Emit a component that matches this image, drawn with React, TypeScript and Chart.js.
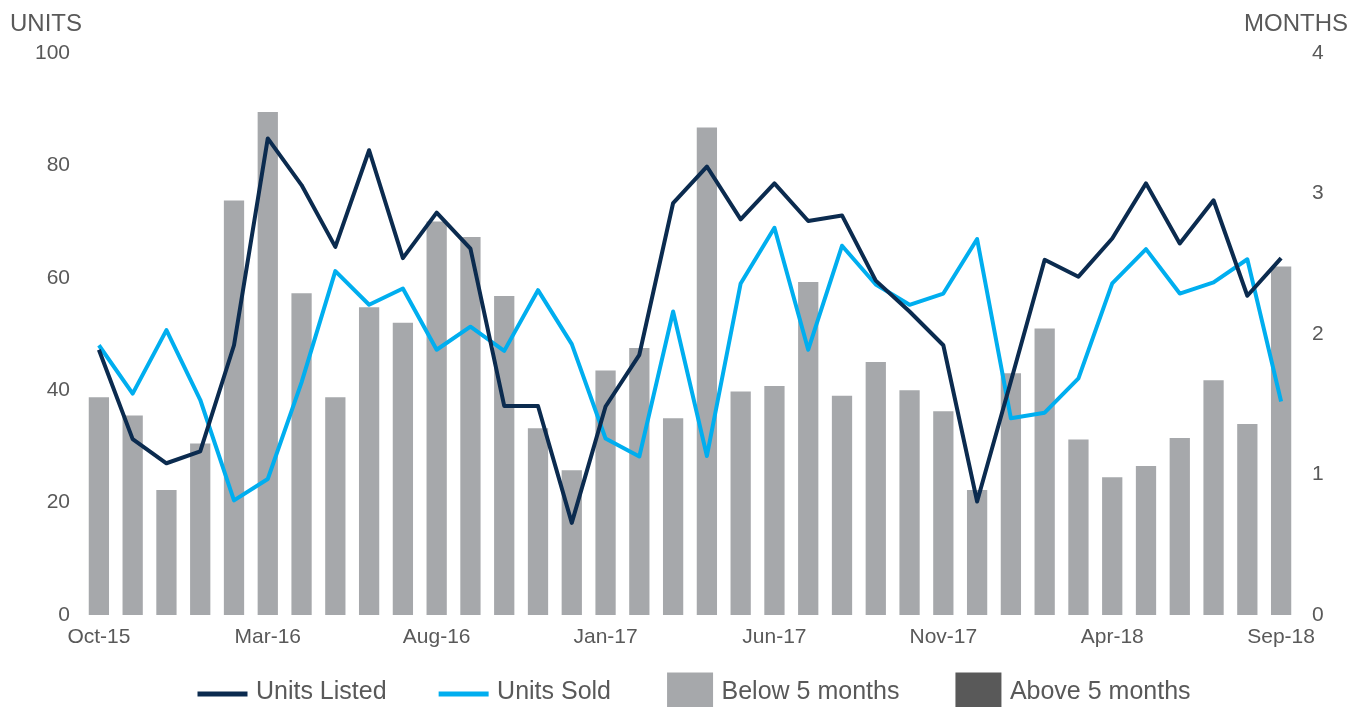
import React, { useEffect, useRef } from 'react';
import { Chart, registerables } from 'chart.js';

Chart.register(...registerables);

// ---------- data ----------
const categories = [
  'Oct-15', 'Nov-15', 'Dec-15', 'Jan-16', 'Feb-16', 'Mar-16', 'Apr-16', 'May-16', 'Jun-16',
  'Jul-16', 'Aug-16', 'Sep-16', 'Oct-16', 'Nov-16', 'Dec-16', 'Jan-17', 'Feb-17', 'Mar-17',
  'Apr-17', 'May-17', 'Jun-17', 'Jul-17', 'Aug-17', 'Sep-17', 'Oct-17', 'Nov-17', 'Dec-17',
  'Jan-18', 'Feb-18', 'Mar-18', 'Apr-18', 'May-18', 'Jun-18', 'Jul-18', 'Aug-18', 'Sep-18',
];

const unitsListed = [
  47.2, 31.3, 27.0, 29.1, 48.0, 84.8, 76.5, 65.5, 82.7,
  63.5, 71.6, 65.2, 37.2, 37.2, 16.4, 37.1, 46.3, 73.3,
  79.8, 70.4, 76.8, 70.1, 71.1, 59.5, 54.0, 48.0, 20.2,
  41.6, 63.2, 60.2, 67.0, 76.8, 66.1, 73.8, 56.8, 63.5,
];

const unitsSold = [
  48.0, 39.4, 50.7, 38.3, 20.4, 24.2, 41.4, 61.2, 55.2,
  58.1, 47.2, 51.3, 47.0, 57.8, 48.2, 31.4, 28.2, 54.0,
  28.3, 59.0, 68.9, 47.2, 65.7, 58.8, 55.2, 57.2, 66.9,
  35.0, 36.0, 42.1, 59.0, 65.1, 57.2, 59.2, 63.3, 38.0,
];

const monthsBelow5 = [
  1.55, 1.42, 0.89, 1.22, 2.95, 3.58, 2.29, 1.55, 2.19,
  2.08, 2.80, 2.69, 2.27, 1.33, 1.03, 1.74, 1.90, 1.40,
  3.47, 1.59, 1.63, 2.37, 1.56, 1.80, 1.60, 1.45, 0.89,
  1.72, 2.04, 1.25, 0.98, 1.06, 1.26, 1.67, 1.36, 2.48,
];

const monthsAbove5: (number | null)[] = [
  null, null, null, null, null, null, null, null, null,
  null, null, null, null, null, null, null, null, null,
  null, null, null, null, null, null, null, null, null,
  null, null, null, null, null, null, null, null, null,
];

const seriesNames = ['Units Listed', 'Units Sold', 'Below 5 months', 'Above 5 months'];
const leftAxisTitle = 'UNITS';
const rightAxisTitle = 'MONTHS';
const unitsRange = { min: 0, max: 100, step: 20 };
const monthsRange = { min: 0, max: 4, step: 1 };
const xLabelEvery = 5;

// ---------- styles ----------
const FONT = "'Liberation Sans', Arial, Helvetica, sans-serif";
const TEXT = '#595959';
const NAVY = '#0B2B4F';
const CYAN = '#00AEEF';
const BAR_GREY = '#A6A8AB';
const BAR_DARK = '#595959';

function makeSwatch(kind: 'line' | 'box', color: string): HTMLCanvasElement {
  const c = document.createElement('canvas');
  c.width = 100;
  c.height = 48;
  const ctx = c.getContext('2d')!;
  ctx.fillStyle = color;
  if (kind === 'line') ctx.fillRect(48, 23, 50, 5);
  else ctx.fillRect(52, 4, 46, 44);
  return c;
}

const axisTitlesPlugin = {
  id: 'axisTitles',
  afterDraw(chart: any) {
    const ctx = chart.ctx as CanvasRenderingContext2D;
    ctx.save();
    ctx.fillStyle = TEXT;
    ctx.font = `24px ${FONT}`;
    ctx.textBaseline = 'alphabetic';
    ctx.textAlign = 'left';
    ctx.fillText(leftAxisTitle, 10, 31);
    ctx.textAlign = 'right';
    ctx.fillText(rightAxisTitle, chart.width - 16, 31);
    ctx.restore();
  },
};

export default function App() {
  const canvasRef = useRef<HTMLCanvasElement | null>(null);

  useEffect(() => {
    const canvas = canvasRef.current;
    if (!canvas) return;

    const swatches = [
      makeSwatch('line', NAVY),
      makeSwatch('line', CYAN),
      makeSwatch('box', BAR_GREY),
      makeSwatch('box', BAR_DARK),
    ];

    const chart = new Chart(canvas, {
      type: 'bar',
      data: {
        labels: categories,
        datasets: [
          {
            type: 'line',
            label: seriesNames[0],
            data: unitsListed,
            yAxisID: 'y',
            borderColor: NAVY,
            backgroundColor: NAVY,
            borderWidth: 4,
            pointRadius: 0,
            tension: 0,
            borderJoinStyle: 'round',
            fill: false,
          } as any,
          {
            type: 'line',
            label: seriesNames[1],
            data: unitsSold,
            yAxisID: 'y',
            borderColor: CYAN,
            backgroundColor: CYAN,
            borderWidth: 4,
            pointRadius: 0,
            tension: 0,
            borderJoinStyle: 'round',
            fill: false,
          } as any,
          {
            type: 'bar',
            label: seriesNames[2],
            data: monthsBelow5,
            yAxisID: 'y1',
            backgroundColor: BAR_GREY,
            stack: 'months',
            categoryPercentage: 1,
            barPercentage: 0.6,
          } as any,
          {
            type: 'bar',
            label: seriesNames[3],
            data: monthsAbove5,
            yAxisID: 'y1',
            backgroundColor: BAR_DARK,
            stack: 'months',
            categoryPercentage: 1,
            barPercentage: 0.6,
          } as any,
        ],
      },
      options: {
        responsive: false,
        animation: false,
        devicePixelRatio: 1,
        events: [],
        layout: { padding: { top: 53, left: 0, right: 18, bottom: 0 } },
        plugins: {
          tooltip: { enabled: false },
          legend: {
            display: true,
            position: 'bottom',
            maxHeight: 37,
            labels: {
              usePointStyle: true,
              pointStyleWidth: 88,
              padding: 10,
              color: TEXT,
              font: { family: FONT, size: 25 },
              generateLabels: (ch: any) => {
                const items = (Chart.defaults.plugins.legend.labels as any).generateLabels(ch);
                return items.map((it: any, i: number) => ({
                  ...it,
                  pointStyle: swatches[i],
                  lineWidth: 0,
                  strokeStyle: 'transparent',
                  fontColor: TEXT,
                }));
              },
            },
          } as any,
        },
        scales: {
          x: {
            type: 'category',
            offset: true,
            grid: { display: false, drawTicks: false },
            border: { display: false },
            ticks: {
              autoSkip: false,
              maxRotation: 0,
              minRotation: 0,
              padding: 10,
              color: TEXT,
              font: { family: FONT, size: 21 },
              callback: (_v: any, i: number) => (i % xLabelEvery === 0 ? categories[i] : ''),
            },
            afterFit: (s: any) => {
              s.height = 55;
            },
          } as any,
          y: {
            type: 'linear',
            position: 'left',
            min: unitsRange.min,
            max: unitsRange.max,
            grid: { display: false, drawTicks: false },
            border: { display: false },
            ticks: {
              stepSize: unitsRange.step,
              padding: 12,
              color: TEXT,
              font: { family: FONT, size: 21 },
            },
            afterFit: (s: any) => {
              s.width = 82;
            },
          } as any,
          y1: {
            type: 'linear',
            position: 'right',
            min: monthsRange.min,
            max: monthsRange.max,
            grid: { display: false, drawTicks: false },
            border: { display: false },
            ticks: {
              stepSize: monthsRange.step,
              padding: 14,
              color: TEXT,
              font: { family: FONT, size: 21 },
            },
            afterFit: (s: any) => {
              s.width = 48;
            },
          } as any,
        },
      },
      plugins: [axisTitlesPlugin],
    });

    return () => {
      chart.destroy();
    };
  }, []);

  return (
    <div style={{ position: 'absolute', left: 0, top: 0, width: 1364, height: 707, background: '#fff' }}>
      <canvas ref={canvasRef} width={1364} height={707} style={{ display: 'block' }} />
    </div>
  );
}
